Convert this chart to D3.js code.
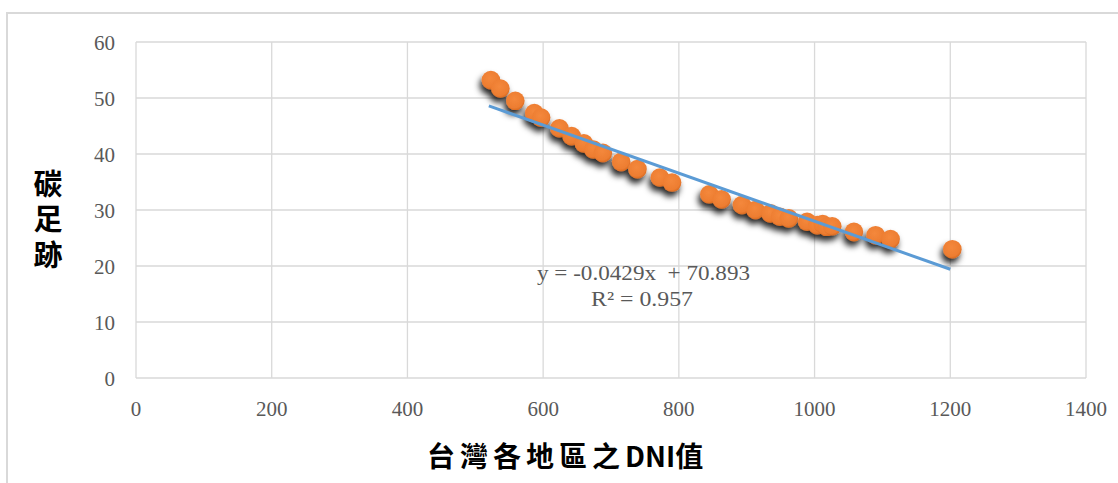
<!DOCTYPE html>
<html><head><meta charset="utf-8">
<script src="https://cdn.jsdelivr.net/npm/d3@7"></script>
<style>body{margin:0;background:#fff}svg{display:block}</style>
</head><body><svg id="c" width="1118" height="483"></svg>
<script>
const dniValues = [523,537,559,587,597,624,642,660,674,688,715,739,772,790,845,863,893,913,935,949,962,989,1004,1012,1018,1026,1058,1090,1112,1203];
const footprintValues = [53.2,51.7,49.5,47.3,46.5,44.6,43.2,41.9,40.8,40.2,38.6,37.3,35.8,34.9,32.8,31.9,30.9,30.0,29.4,28.8,28.5,27.9,27.3,27.5,27.0,27.1,26.1,25.5,24.8,23.0];
const xTicks = [0,200,400,600,800,1000,1200,1400];
const yTicks = [0,10,20,30,40,50,60];
const trendSlope = -0.0429, trendIntercept = 70.893;
const trendRange = [520,1200];
const equationLines = ["y = -0.0429x  + 70.893", "R² = 0.957"];
const xTitleParts = ["台灣各地區之","DNI","值"];
const yTitle = "碳足跡";

const svg = d3.select("#c");
const x = d3.scaleLinear().domain([0,1400]).range([136,1086]);
const y = d3.scaleLinear().domain([0,60]).range([378,42]);
const grid = "#d9d9d9", txt = "#595959", serif = "'Liberation Serif','Times New Roman',serif";
const cjk = "'Noto Sans CJK TC','Noto Sans CJK SC',sans-serif";

// outer border
svg.append("rect").attr("x",7).attr("y",13).attr("width",1130).attr("height",500)
  .attr("fill","none").attr("stroke",grid).attr("stroke-width",2);

const defs = svg.append("defs");
const f = defs.append("filter").attr("id","sh").attr("x","-100%").attr("y","-100%").attr("width","300%").attr("height","300%");
f.append("feDropShadow").attr("dx",-2).attr("dy",5).attr("stdDeviation",3).attr("flood-color","#000").attr("flood-opacity",0.85);
const g = defs.append("radialGradient").attr("id","dot").attr("cx","45%").attr("cy","40%").attr("r","60%");
g.append("stop").attr("offset","0%").attr("stop-color","#f4883c");
g.append("stop").attr("offset","80%").attr("stop-color","#ed7d31");
g.append("stop").attr("offset","100%").attr("stop-color","#d96b22");

// gridlines
svg.append("g").selectAll("line").data(yTicks).join("line")
  .attr("x1",x(0)).attr("x2",x(1400)).attr("y1",d=>y(d)).attr("y2",d=>y(d))
  .attr("stroke",grid).attr("stroke-width",1.3);
svg.append("g").selectAll("line").data(xTicks).join("line")
  .attr("y1",y(0)).attr("y2",y(60)).attr("x1",d=>x(d)).attr("x2",d=>x(d))
  .attr("stroke",grid).attr("stroke-width",1.3);

// tick labels
svg.append("g").selectAll("text").data(yTicks).join("text")
  .attr("x",115).attr("y",d=>y(d)+7.5).attr("text-anchor","end")
  .attr("font-family",serif).attr("font-size",21).attr("fill",txt).text(d=>d);
svg.append("g").selectAll("text").data(xTicks).join("text")
  .attr("x",d=>x(d)).attr("y",416).attr("text-anchor","middle")
  .attr("font-family",serif).attr("font-size",21).attr("fill",txt).text(d=>d);

// points
const pts = dniValues.map((d,i)=>[d,footprintValues[i]]);
svg.append("g").attr("filter","url(#sh)").selectAll("circle").data(pts).join("circle")
  .attr("cx",d=>x(d[0])).attr("cy",d=>y(d[1])).attr("r",9.3).attr("fill","url(#dot)");

// trendline
svg.append("line")
  .attr("x1",x(trendRange[0])).attr("y1",y(trendIntercept+trendSlope*trendRange[0]))
  .attr("x2",x(trendRange[1])).attr("y2",y(trendIntercept+trendSlope*trendRange[1]))
  .attr("stroke","#5b9bd5").attr("stroke-width",3);

// equation
svg.append("text").attr("x",537).attr("y",280).attr("xml:space","preserve").style("white-space","pre")
  .attr("font-family",serif).attr("font-size",22).attr("fill",txt)
  .attr("textLength",213).attr("lengthAdjust","spacingAndGlyphs").text(equationLines[0]);
svg.append("text").attr("x",591).attr("y",306)
  .attr("font-family",serif).attr("font-size",22).attr("fill",txt)
  .attr("textLength",102).attr("lengthAdjust","spacingAndGlyphs").text(equationLines[1]);

// axis titles
const xt = svg.append("text").attr("x",427).attr("y",467)
  .attr("font-family",cjk).attr("font-weight","bold")
  .attr("font-size",28).attr("fill","#000");
xt.append("tspan").attr("letter-spacing",5).text(xTitleParts[0]);
xt.append("tspan").attr("letter-spacing",0).text(xTitleParts[1]);
xt.append("tspan").text(xTitleParts[2]);
svg.append("text").attr("x",48).attr("y",169)
  .style("writing-mode","vertical-rl").attr("letter-spacing",6.5)
  .attr("font-family",cjk).attr("font-weight","bold")
  .attr("font-size",29).attr("fill","#000").text(yTitle);
</script></body></html>
